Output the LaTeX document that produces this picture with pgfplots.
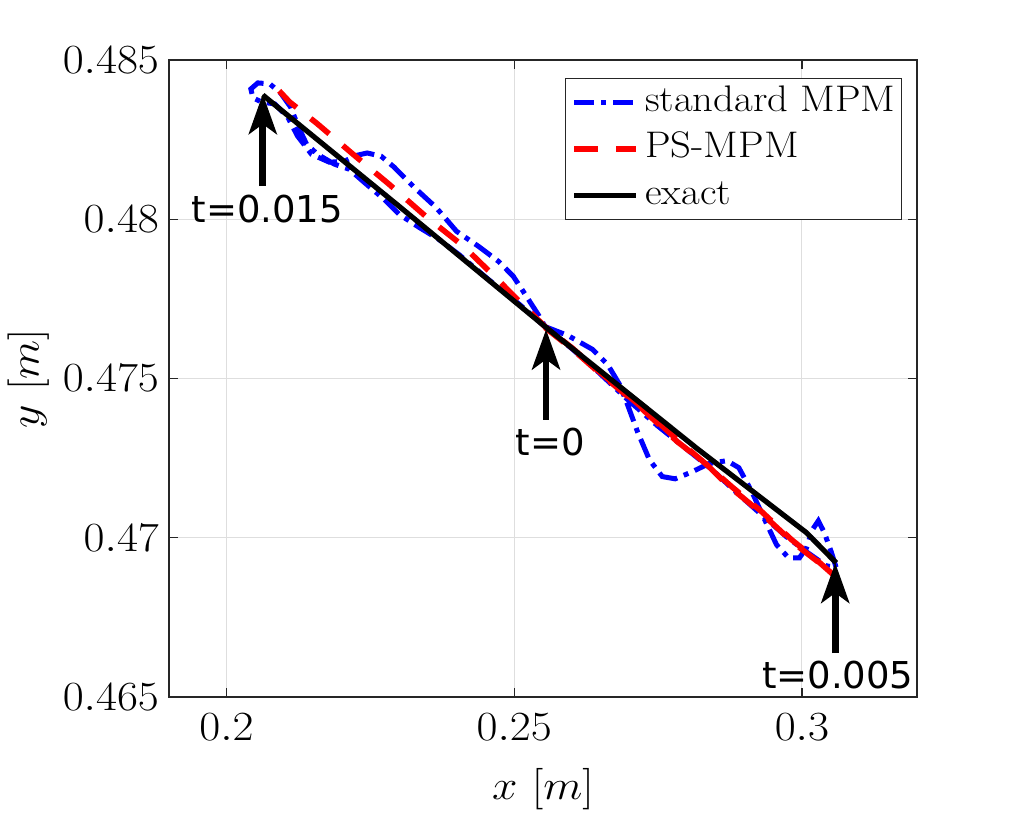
\documentclass[border=0pt]{standalone}
\usepackage{fontspec}
\usepackage{graphicx}
\usepackage{pgfplots}
\pgfplotsset{compat=1.18}
\usetikzlibrary{arrows.meta}
\newfontfamily\annfont{DejaVu Sans}

\definecolor{mpmblue}{RGB}{0,0,255}
\definecolor{psred}{RGB}{255,0,0}

% slightly widened lettering for the axis texts
\newcommand{\wide}[1]{\scalebox{1.1}[1]{#1}}

% trajectory of the tracked point, standard MPM
\pgfplotstableread{
x y
0.25535 0.47663
0.25933 0.47635
0.26364 0.47591
0.26623 0.47544
0.26831 0.47481
0.26969 0.47418
0.27142 0.47333
0.27349 0.47245
0.27573 0.47192
0.27798 0.47185
0.28092 0.47207
0.28385 0.47233
0.28696 0.47242
0.28903 0.47220
0.29128 0.47145
0.29352 0.47057
0.29559 0.46978
0.29767 0.46937
0.29957 0.46937
0.30078 0.46968
0.30181 0.47025
0.30285 0.47053
0.30389 0.47016
0.30509 0.46956
0.30596 0.46906
0.30423 0.46912
0.30078 0.46956
0.29732 0.47003
0.29300 0.47072
0.28869 0.47141
0.28437 0.47214
0.28005 0.47277
0.27487 0.47352
0.26969 0.47434
0.26451 0.47522
0.26019 0.47591
0.25535 0.47663
0.25069 0.47736
0.24551 0.47811
0.24033 0.47890
0.23687 0.47937
0.23342 0.47975
0.22997 0.48016
0.22737 0.48063
0.22392 0.48116
0.22133 0.48157
0.21874 0.48173
0.21580 0.48204
0.21390 0.48236
0.21252 0.48289
0.21114 0.48352
0.20941 0.48396
0.20751 0.48425
0.20544 0.48428
0.20423 0.48409
0.20458 0.48381
0.20613 0.48368
0.20838 0.48362
0.21062 0.48321
0.21235 0.48261
0.21477 0.48204
0.21788 0.48179
0.22047 0.48182
0.22271 0.48201
0.22444 0.48208
0.22686 0.48198
0.22910 0.48164
0.23256 0.48101
0.23636 0.48038
0.23998 0.47962
0.24378 0.47915
0.24724 0.47868
0.24983 0.47821
0.25190 0.47764
0.25415 0.47701
0.25535 0.47663
}\standardmpm

% trajectory of the tracked point, PS-MPM
\pgfplotstableread{
x y
0.25535 0.47660
0.26019 0.47591
0.26451 0.47522
0.27142 0.47418
0.27832 0.47302
0.28351 0.47229
0.28696 0.47167
0.29266 0.47082
0.29853 0.46984
0.30302 0.46921
0.30544 0.46884
0.30250 0.46931
0.29819 0.46994
0.29300 0.47082
0.28782 0.47160
0.28264 0.47242
0.27832 0.47308
0.27142 0.47421
0.26451 0.47525
0.26019 0.47594
0.25535 0.47663
0.25104 0.47739
0.24672 0.47818
0.24119 0.47915
0.23463 0.48009
0.22824 0.48110
0.22219 0.48201
0.21563 0.48302
0.21097 0.48368
0.20786 0.48428
}\psmpm

% analytical trajectory
\pgfplotstableread{
x y
0.20630 0.48390
0.22997 0.48041
0.25535 0.47663
0.28178 0.47280
0.30078 0.47016
0.30596 0.46921
}\exact

\begin{document}
\begin{tikzpicture}
\begin{axis}[
  scale only axis,
  width=374pt, height=318.5pt,
  xmin=0.19, xmax=0.32,
  ymin=0.465, ymax=0.485,
  xtick={0.2,0.25,0.3},
  ytick={0.465,0.47,0.475,0.48,0.485},
  scaled ticks=false,
  /pgf/number format/fixed, /pgf/number format/precision=3,
  xticklabel={\wide{$\pgfmathprintnumber{\tick}$}},
  yticklabel={\wide{$\pgfmathprintnumber{\tick}$}},
  tick label style={font=\fontsize{19.5}{23}\selectfont},
  xticklabel style={yshift=-5pt},
  yticklabel style={xshift=-1.5pt},
  label style={font=\fontsize{21.5}{26}\selectfont},
  xlabel={\wide{$x\ [m]$}},
  ylabel={\wide{$y\ [m]$}},
  xlabel style={at={(axis description cs:0.5,0)}, anchor=base, yshift=-51.5pt},
  tick align=inside,
  major tick length=4.5pt,
  grid=major,
  major grid style={color=black!13, line width=0.5pt},
  axis line style={color=black!85, line width=0.6pt},
  tick style={color=black!85, line width=0.6pt},
  clip=false,
  legend cell align=left,
  legend image code/.code={\draw[#1] (0pt,0pt) -- (31pt,0pt);},
  legend style={
    at={(1,1)}, anchor=north east, xshift=-7.5pt, yshift=-9pt,
    draw=black!85, line width=0.5pt,
    font=\fontsize{18.5}{22}\selectfont,
    inner xsep=3pt, inner ysep=3.5pt,
    row sep=6.25pt, column sep=3pt,
    nodes={inner sep=0pt, text height=13pt, text depth=4pt},
  },
]
\addplot[mpmblue, line width=2.5pt,
  dash pattern=on 10pt off 3.5pt on 2.5pt off 3.5pt]
  table[x=x, y=y] {\standardmpm};
\addlegendentry{\wide{standard MPM}}
\addplot[psred, line width=2.8pt, dash pattern=on 12pt off 9pt]
  table[x=x, y=y] {\psmpm};
\addlegendentry{\wide{PS-MPM}}
\addplot[black, line width=2.6pt] table[x=x, y=y] {\exact};
\addlegendentry{\wide{exact}}

% time labels along the exact trajectory
\draw[line width=3.3pt, -{Stealth[length=20pt,width=14pt,inset=5pt]}]
  (axis cs:0.20630,0.48104) -- (axis cs:0.20630,0.48393);
\node[anchor=base, inner sep=0pt, font=\annfont\fontsize{18.5}{22}\selectfont]
  at (axis cs:0.20708,0.47991) {t=0.015};
\draw[line width=3.3pt, -{Stealth[length=20pt,width=14pt,inset=5pt]}]
  (axis cs:0.25553,0.47371) -- (axis cs:0.25553,0.47654);
\node[anchor=base, inner sep=0pt, font=\annfont\fontsize{18.5}{22}\selectfont]
  at (axis cs:0.25630,0.47258) {t=0};
\draw[line width=3.3pt, -{Stealth[length=20pt,width=14pt,inset=5pt]}]
  (axis cs:0.30579,0.46638) -- (axis cs:0.30579,0.46921);
\node[anchor=base, inner sep=0pt, font=\annfont\fontsize{18.5}{22}\selectfont]
  at (axis cs:0.30622,0.46528) {t=0.005};
\end{axis}
\path (current axis.south west) ++(-84.5pt,-60pt)
  rectangle ([xshift=49.5pt,yshift=30pt]current axis.north east);
\end{tikzpicture}
\end{document}
